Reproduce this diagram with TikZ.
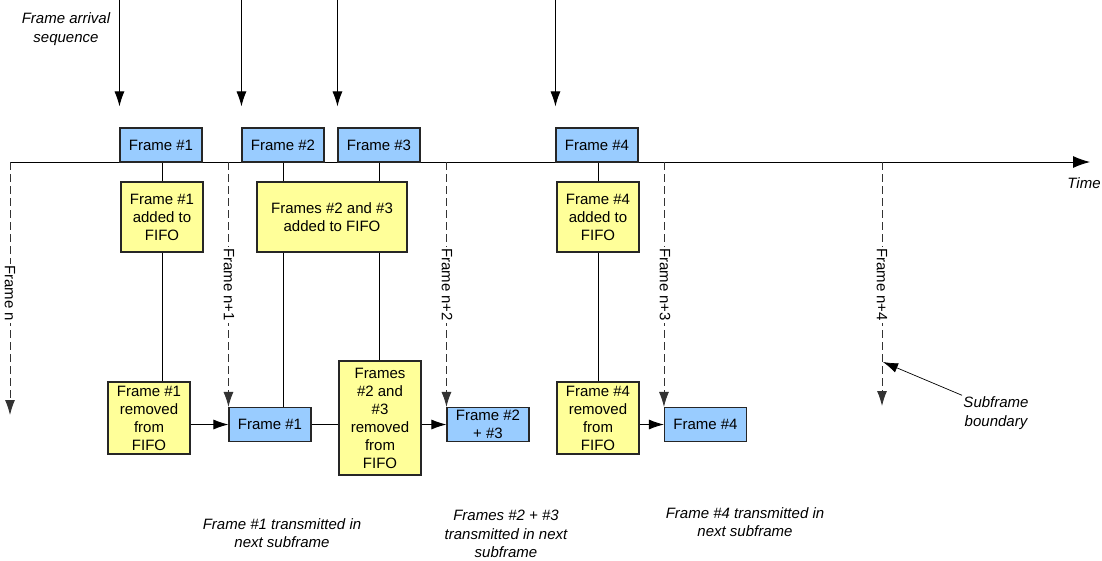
\documentclass[tikz,border=0pt]{standalone}
\usepackage{fontspec}
\setmainfont{Liberation Sans}
\usetikzlibrary{arrows.meta}

\definecolor{blueframe}{HTML}{99CCFF}
\definecolor{yellowfifo}{HTML}{FFFF99}
\newcommand\diagfont{\fontsize{15}{18}\selectfont}
\newcommand\diagnotefont{\fontsize{15}{18.5}\selectfont\itshape}

\begin{document}
\begin{tikzpicture}[
   x=1pt, y=-1pt,
   line width=0.9pt,
   >={Latex[length=15pt,width=10pt]},
   framebox/.style={draw=black!85, line width=1.1pt, fill=blueframe, minimum width=82pt, minimum height=34pt, inner sep=0pt, align=center, font=\diagfont},   % frames (blue)
   fifobox/.style={draw=black!85, line width=1.1pt, fill=yellowfifo, minimum width=82pt, inner sep=0pt, align=center, font=\diagfont},   % FIFO actions (yellow)
   axis/.style={-{Latex[length=17pt,width=12pt]}},
   arrive/.style={->},
   flow/.style={->},
   link/.style={-},
   bound/.style={->, dash pattern=on 8pt off 4pt, draw=black!80},   % subframe boundaries
   boundlabel/.style={rotate=-90, anchor=east, fill=white, inner sep=1.5pt, font=\diagfont},
   notestyle/.style={align=center, inner sep=1pt, font=\diagnotefont}
]
\useasboundingbox (0,0) rectangle (1102,560);

% --- time axis
\coordinate (axisL) at (10,162);
\coordinate (axisR) at (1090,162);
\draw[axis] (axisL) -- (axisR);
\node[notestyle] (timelbl) at (1084,183) {Time};

% --- arriving frames
\node[framebox] (f1) at (161,145) {Frame \#1};
\node[framebox] (f2) at (283,145) {Frame \#2};
\node[framebox] (f3) at (379,145) {Frame \#3};
\node[framebox] (f4) at (597,145) {Frame \#4};

\draw[arrive] (f1.north west |- 0,0) -- ([yshift=21pt]f1.north west);
\draw[arrive] (f2.north west |- 0,0) -- ([yshift=21pt]f2.north west);
\draw[arrive] (f3.north west |- 0,0) -- ([yshift=21pt]f3.north west);
\draw[arrive] (f4.north west |- 0,0) -- ([yshift=21pt]f4.north west);

\node[notestyle] (arrival) at (66,29) {Frame arrival\\sequence};

% --- FIFO: frames added
\node[fifobox, minimum height=70pt] (a1) at (162,217) {Frame \#1\\added to\\FIFO};
\node[fifobox, minimum width=150pt, minimum height=70pt] (a23) at (332,217) {Frames \#2 and \#3\\added to FIFO};
\node[fifobox, minimum height=70pt] (a4) at (598,217) {Frame \#4\\added to\\FIFO};

% --- FIFO: frames removed
\node[fifobox, minimum height=72pt] (r1) at (149,418) {Frame \#1\\removed\\from\\FIFO};
\node[fifobox, minimum height=114pt] (r23) at (380,418) {Frames\\\#2 and\\\#3\\removed\\from\\FIFO};
\node[fifobox, minimum height=72pt] (r4) at (598,418) {Frame \#4\\removed\\from\\FIFO};

% --- transmitted frames
\node[framebox] (t1) at (270,424.5) {Frame \#1};
\node[framebox] (t23) at (488,424.5) {Frame \#2\\+ \#3};
\node[framebox] (t4) at (705.5,424.5) {Frame \#4};

% vertical links
\draw[link] (a1.north |- f1.south) -- (a1.north);
\draw[link] (a1.south) -- (a1.south |- r1.north);
\draw[link] (f2.south) -- (f2.south |- a23.north);
\draw[link] (f2.south |- a23.south) -- (f2.south |- t1.north);
\draw[link] (f3.south) -- (f3.south |- a23.north);
\draw[link] (f3.south |- a23.south) -- (f3.south |- r23.north);
\draw[link] (a4.north |- f4.south) -- (a4.north);
\draw[link] (a4.south) -- (r4.north);

% horizontal links
\draw[flow] (r1.east |- t1.west) -- (t1.west);
\draw[link] (t1.east) -- (t1.east -| r23.west);
\draw[flow] (r23.east |- t23.west) -- (t23.west);
\draw[flow] (r4.east |- t4.west) -- (t4.west);

% --- subframe boundaries
\coordinate (b0end) at (10,415);
\coordinate (b4) at (882,162);
\coordinate (b4end) at (882,406);
\draw[bound] (axisL) -- (b0end);
\draw[bound] (t1.north west |- axisL) -- (t1.north west);
\draw[bound] (t23.north west |- axisL) -- (t23.north west);
\draw[bound] (t4.north west |- axisL) -- (t4.north west);
\draw[bound] (b4) -- (b4end);

\node[boundlabel] at (10,323) {Frame n};
\node[boundlabel] at (229,323) {Frame n+1};
\node[boundlabel] at (447,323) {Frame n+2};
\node[boundlabel] at (665,323) {Frame n+3};
\node[boundlabel] at (882,323) {Frame n+4};

\node[notestyle] (sbnote) at (996,413) {Subframe\\boundary};
\coordinate (sbhit) at (883,362);
\draw[flow, line width=0.7pt] (sbnote.north west) -- (sbhit);

% --- notes below
\node[notestyle] (tx1) at (282,533) {Frame \#1 transmitted in\\next subframe};
\node[notestyle] (tx23) at (506,534) {Frames \#2 + \#3\\transmitted in next\\subframe};
\node[notestyle] (tx4) at (745,522) {Frame \#4 transmitted in\\next subframe};

\end{tikzpicture}
\end{document}
